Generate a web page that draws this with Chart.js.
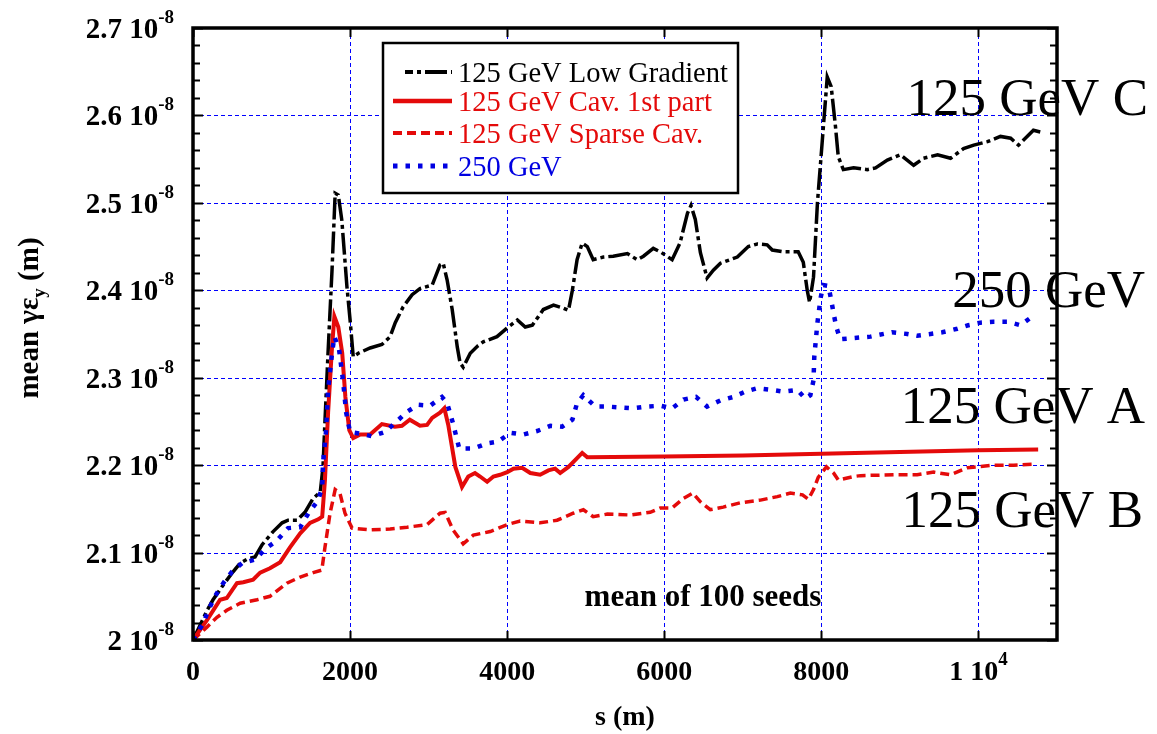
<!DOCTYPE html>
<html>
<head>
<meta charset="utf-8">
<script src="https://cdn.jsdelivr.net/npm/chart.js@4.4.0/dist/chart.umd.min.js"></script>
<style>
  body { margin: 0; background: #fff; }
  canvas { display: block; }
</style>
</head>
<body>
<canvas id="grafico" width="1157" height="734"></canvas>
<script>
// [s (m), mean gamma*eps_y in units of 1e-8 m]
var lowGradient = [
  [0,2.0],[180,2.034],[255,2.046],[385,2.063],[510,2.078],[600,2.088],[700,2.093],[790,2.095],
  [880,2.109],[1020,2.124],[1135,2.134],[1210,2.137],[1325,2.137],[1425,2.146],[1530,2.162],
  [1620,2.169],[1655,2.198],[1680,2.25],[1720,2.33],[1770,2.423],[1810,2.511],[1850,2.509],
  [1895,2.48],[1960,2.404],[2000,2.366],[2040,2.324],[2105,2.328],[2255,2.334],[2405,2.338],
  [2510,2.347],[2575,2.363],[2675,2.381],[2790,2.395],[2890,2.402],[3045,2.406],[3145,2.429],
  [3185,2.431],[3235,2.412],[3300,2.378],[3365,2.335],[3400,2.317],[3440,2.312],[3530,2.328],
  [3620,2.336],[3695,2.341],[3870,2.347],[4000,2.357],[4130,2.366],[4230,2.358],[4320,2.360],
  [4460,2.378],[4590,2.383],[4700,2.38],[4780,2.377],[4830,2.4],[4890,2.435],[4955,2.454],
  [5020,2.45],[5095,2.435],[5225,2.438],[5350,2.439],[5530,2.442],[5655,2.435],[5735,2.439],
  [5860,2.448],[5950,2.444],[6100,2.435],[6200,2.454],[6295,2.488],[6340,2.497],[6395,2.481],
  [6460,2.443],[6545,2.414],[6625,2.423],[6715,2.431],[6930,2.438],[7070,2.45],[7185,2.453],
  [7310,2.452],[7375,2.446],[7515,2.444],[7705,2.444],[7770,2.432],[7820,2.4],[7850,2.386],
  [7900,2.415],[7950,2.5],[8010,2.569],[8075,2.644],[8125,2.633],[8180,2.587],[8215,2.553],
  [8280,2.538],[8410,2.54],[8585,2.538],[8690,2.54],[8840,2.549],[9005,2.555],[9175,2.543],
  [9300,2.551],[9480,2.555],[9645,2.551],[9810,2.562],[9940,2.566],[10115,2.57],[10280,2.576],
  [10410,2.574],[10510,2.566],[10700,2.583],[10790,2.581]
];
var cavFirstPart = [
  [0,2.0],[180,2.023],[345,2.046],[430,2.048],[560,2.065],[640,2.066],[765,2.069],[855,2.077],
  [980,2.082],[1110,2.089],[1235,2.106],[1365,2.122],[1490,2.134],[1595,2.138],[1645,2.141],
  [1680,2.183],[1720,2.26],[1770,2.335],[1800,2.37],[1850,2.358],[1900,2.328],[1940,2.278],
  [1990,2.24],[2040,2.231],[2130,2.235],[2255,2.235],[2405,2.247],[2570,2.244],[2660,2.245],
  [2760,2.252],[2890,2.245],[2980,2.246],[3045,2.254],[3145,2.26],[3200,2.265],[3250,2.246],
  [3340,2.198],[3425,2.175],[3505,2.187],[3590,2.191],[3655,2.187],[3745,2.181],[3825,2.187],
  [3910,2.189],[4000,2.192],[4080,2.196],[4190,2.197],[4295,2.191],[4420,2.189],[4525,2.194],
  [4610,2.196],[4675,2.191],[4780,2.198],[4890,2.208],[4955,2.214],[5020,2.209],[6000,2.210],
  [7000,2.211],[8000,2.213],[9000,2.215],[10000,2.217],[10760,2.218]
];
var sparseCav = [
  [0,2.0],[180,2.015],[305,2.026],[430,2.034],[600,2.042],[815,2.046],[980,2.05],[1195,2.065],
  [1365,2.072],[1530,2.077],[1640,2.080],[1680,2.106],[1745,2.145],[1810,2.172],[1870,2.168],
  [1935,2.145],[2025,2.128],[2255,2.126],[2510,2.127],[2725,2.129],[2980,2.132],[3145,2.145],
  [3210,2.146],[3310,2.126],[3440,2.110],[3570,2.120],[3785,2.124],[4000,2.132],[4165,2.136],
  [4420,2.134],[4635,2.137],[4840,2.145],[4970,2.149],[5095,2.141],[5275,2.144],[5565,2.143],
  [5820,2.146],[5950,2.151],[6100,2.151],[6245,2.162],[6365,2.168],[6460,2.158],[6585,2.149],
  [6750,2.152],[6970,2.157],[7225,2.16],[7440,2.164],[7605,2.168],[7760,2.166],[7835,2.161],
  [7900,2.172],[7960,2.186],[8065,2.198],[8155,2.191],[8215,2.183],[8410,2.187],[8500,2.188],
  [8920,2.189],[9220,2.189],[9430,2.192],[9645,2.189],[9860,2.197],[10190,2.2],[10450,2.2],
  [10700,2.201]
];
var gev250 = [
  [0,2.0],[130,2.019],[195,2.034],[280,2.05],[385,2.065],[495,2.078],[625,2.088],[790,2.092],
  [920,2.104],[1070,2.114],[1210,2.128],[1365,2.129],[1470,2.145],[1595,2.160],[1645,2.175],
  [1655,2.202],[1695,2.24],[1720,2.286],[1770,2.328],[1800,2.347],[1860,2.332],[1910,2.297],
  [1950,2.26],[2000,2.238],[2130,2.236],[2280,2.233],[2445,2.238],[2570,2.248],[2725,2.261],
  [2865,2.269],[3020,2.268],[3170,2.278],[3235,2.271],[3310,2.248],[3390,2.219],[3570,2.219],
  [3745,2.225],[3885,2.227],[4040,2.237],[4205,2.235],[4380,2.239],[4550,2.245],[4700,2.244],
  [4830,2.252],[4890,2.271],[4970,2.280],[5120,2.267],[5275,2.267],[5605,2.265],[5780,2.267],
  [5950,2.268],[6100,2.265],[6245,2.275],[6405,2.278],[6545,2.267],[6715,2.274],[6880,2.278],
  [7030,2.284],[7185,2.288],[7375,2.286],[7515,2.284],[7695,2.286],[7795,2.276],[7860,2.28],
  [7900,2.297],[7910,2.324],[7950,2.363],[7990,2.391],[8025,2.406],[8090,2.405],[8125,2.389],
  [8155,2.374],[8190,2.358],[8240,2.344],[8370,2.345],[8625,2.347],[8900,2.352],[9095,2.350],
  [9220,2.348],[9390,2.350],[9540,2.352],[9730,2.356],[9870,2.36],[10025,2.363],[10190,2.364],
  [10370,2.364],[10535,2.36],[10700,2.371]
];

var seriesNames = ['125 GeV Low Gradient', '125 GeV Cav. 1st part', '125 GeV Sparse Cav.', '250 GeV'];
var xTickValues = [0, 2000, 4000, 6000, 8000, 10000];
var xTickLabels = ['0', '2000', '4000', '6000', '8000', '1 10'];
var xTickExps   = ['', '', '', '', '', '4'];
var yTickValues = [2.0, 2.1, 2.2, 2.3, 2.4, 2.5, 2.6, 2.7];
var yTickLabels = ['2 10', '2.1 10', '2.2 10', '2.3 10', '2.4 10', '2.5 10', '2.6 10', '2.7 10'];
var yTickExp = '-8';
var curveLabels = ['125 GeV C', '250 GeV', '125 GeV A', '125 GeV B'];

var SERIF = '"Liberation Serif", "Times New Roman", serif';
var RED = 'rgb(228,10,10)';
var BLUE = 'rgb(0,0,225)';
var GRID = 'rgb(0,0,255)';

function pontos(lista) {
  return lista.map(function (p) { return { x: p[0], y: p[1] }; });
}

// dotted blue grid under the curves
var grade = {
  id: 'grade',
  beforeDatasetsDraw: function (chart) {
    var ctx = chart.ctx;
    var a = chart.chartArea;
    var sx = chart.scales.x, sy = chart.scales.y;
    ctx.save();
    ctx.strokeStyle = GRID;
    ctx.lineWidth = 1;
    ctx.setLineDash([4, 3]);
    ctx.beginPath();
    sy.ticks.forEach(function (t) {
      var py = Math.round(sy.getPixelForValue(t.value)) + 0.5;
      ctx.moveTo(a.left, py); ctx.lineTo(a.right, py);
    });
    sx.ticks.forEach(function (t) {
      var px = Math.round(sx.getPixelForValue(t.value)) + 0.5;
      ctx.moveTo(px, a.top); ctx.lineTo(px, a.bottom);
    });
    ctx.stroke();
    ctx.restore();
  }
};

// frame, inward ticks, tick labels, titles, legend and curve names
var moldura = {
  id: 'moldura',
  afterDraw: function (chart) {
    var ctx = chart.ctx;
    var a = chart.chartArea;
    var sx = chart.scales.x, sy = chart.scales.y;
    ctx.save();
    ctx.setLineDash([]);
    ctx.strokeStyle = '#000';

    // y ticks every 0.02 on both sides
    ctx.lineWidth = 2;
    ctx.beginPath();
    for (var i = 0; i <= 35; i++) {
      var py = Math.round(sy.getPixelForValue(2 + i * 0.02)) + 0.5;
      var len = (i % 5 === 0) ? 10 : 7;
      ctx.moveTo(a.left, py); ctx.lineTo(a.left + len, py);
      ctx.moveTo(a.right, py); ctx.lineTo(a.right - len, py);
    }
    xTickValues.forEach(function (v) {
      var px = Math.round(sx.getPixelForValue(v)) + 0.5;
      ctx.moveTo(px, a.bottom); ctx.lineTo(px, a.bottom - 9);
      ctx.moveTo(px, a.top); ctx.lineTo(px, a.top + 9);
    });
    ctx.stroke();

    // frame
    ctx.lineWidth = 3.5;
    ctx.strokeRect(a.left, a.top, a.right - a.left, a.bottom - a.top);

    // y tick labels with exponent
    ctx.fillStyle = '#000';
    ctx.textBaseline = 'alphabetic';
    ctx.textAlign = 'left';
    var xEnd = 174;
    yTickValues.forEach(function (v, k) {
      var py = sy.getPixelForValue(v);
      ctx.font = 'bold 19px ' + SERIF;
      var wExp = ctx.measureText(yTickExp).width;
      ctx.fillText(yTickExp, xEnd - wExp, py - 5);
      ctx.font = 'bold 29px ' + SERIF;
      var wBase = ctx.measureText(yTickLabels[k]).width;
      ctx.fillText(yTickLabels[k], xEnd - wExp - wBase, py + 10);
    });

    // x tick labels
    xTickValues.forEach(function (v, k) {
      var px = sx.getPixelForValue(v);
      ctx.font = 'bold 28px ' + SERIF;
      var wBase = ctx.measureText(xTickLabels[k]).width;
      ctx.font = 'bold 19px ' + SERIF;
      var wExp = xTickExps[k] ? ctx.measureText(xTickExps[k]).width : 0;
      var x0 = px - (wBase + wExp) / 2;
      ctx.font = 'bold 28px ' + SERIF;
      ctx.fillText(xTickLabels[k], x0, 680);
      if (xTickExps[k]) {
        ctx.font = 'bold 19px ' + SERIF;
        ctx.fillText(xTickExps[k], x0 + wBase, 665);
      }
    });

    // axis titles
    ctx.font = 'bold 28px ' + SERIF;
    ctx.textAlign = 'center';
    ctx.fillText('s (m)', (a.left + a.right) / 2, 725);

    ctx.save();
    ctx.translate(38, 318);
    ctx.rotate(-Math.PI / 2);
    ctx.textAlign = 'left';
    var p1 = 'mean \u03B3\u03B5', p2 = 'y', p3 = ' (m)';
    ctx.font = 'bold 29px ' + SERIF;
    var w1 = ctx.measureText(p1).width, w3 = ctx.measureText(p3).width;
    ctx.font = 'bold 19px ' + SERIF;
    var w2 = ctx.measureText(p2).width;
    var x0 = -(w1 + w2 + w3) / 2;
    ctx.font = 'bold 29px ' + SERIF;
    ctx.fillText(p1, x0, 0);
    ctx.fillText(p3, x0 + w1 + w2, 0);
    ctx.font = 'bold 19px ' + SERIF;
    ctx.fillText(p2, x0 + w1, 7);
    ctx.restore();

    // note inside the plot
    ctx.font = 'bold 31px ' + SERIF;
    ctx.textAlign = 'center';
    ctx.fillText('mean of 100 seeds', 703, 606);

    // legend box
    var lx = 383, ly = 43, lw = 355, lh = 150;
    ctx.fillStyle = '#fff';
    ctx.fillRect(lx, ly, lw, lh);
    ctx.lineWidth = 2.5;
    ctx.strokeStyle = '#000';
    ctx.strokeRect(lx, ly, lw, lh);
    var rows = [72, 101, 133, 166];
    ctx.textAlign = 'left';
    ctx.font = '28.5px ' + SERIF;
    chart.data.datasets.forEach(function (ds, k) {
      var y = rows[k];
      ctx.save();
      ctx.strokeStyle = ds.borderColor;
      ctx.lineWidth = ds.borderWidth + 0.5;
      ctx.setLineDash(ds.borderDash || []);
      ctx.lineDashOffset = k === 0 ? 14 : 0;
      ctx.beginPath();
      ctx.moveTo(k === 0 ? 405 : 393, y);
      ctx.lineTo(452, y);
      ctx.stroke();
      ctx.restore();
      ctx.fillStyle = ds.borderColor;
      ctx.fillText(ds.label, 458, y + 10);
    });

    // curve names on the right
    ctx.fillStyle = '#000';
    ctx.font = '53px ' + SERIF;
    ctx.textAlign = 'right';
    var spots = [[1148, 115], [1145, 307], [1145, 423], [1143, 527]];
    curveLabels.forEach(function (t, k) {
      ctx.fillText(t, spots[k][0], spots[k][1]);
    });
    ctx.restore();
  }
};

// ticks only at the labelled values
function fixarTicks(valores) {
  return function (s) {
    s.ticks = valores.map(function (v) { return { value: v }; });
  };
}

new Chart(document.getElementById('grafico'), {
  type: 'line',
  data: {
    datasets: [
      { label: seriesNames[0], data: pontos(lowGradient), borderColor: '#000', borderWidth: 3.5,
        borderDash: [22, 4, 4, 4], order: 3 },
      { label: seriesNames[1], data: pontos(cavFirstPart), borderColor: RED, borderWidth: 4, order: 1 },
      { label: seriesNames[2], data: pontos(sparseCav), borderColor: RED, borderWidth: 3.5,
        borderDash: [9, 5], order: 2 },
      { label: seriesNames[3], data: pontos(gev250), borderColor: BLUE, borderWidth: 4.5,
        borderDash: [4.5, 8], order: 0 }
    ]
  },
  options: {
    responsive: false,
    animation: false,
    layout: { padding: { left: 193, top: 28, right: 100, bottom: 94 } },
    elements: { point: { radius: 0 }, line: { tension: 0, fill: false } },
    plugins: { legend: { display: false }, tooltip: { enabled: false } },
    scales: {
      x: {
        type: 'linear', min: 0, max: 11000,
        afterFit: function (s) { s.height = 0; },
        afterBuildTicks: fixarTicks(xTickValues),
        ticks: { display: false },
        grid: { display: false },
        border: { display: false }
      },
      y: {
        type: 'linear', min: 2.0, max: 2.7,
        afterFit: function (s) { s.width = 0; },
        afterBuildTicks: fixarTicks(yTickValues),
        ticks: { display: false },
        grid: { display: false },
        border: { display: false }
      }
    }
  },
  plugins: [grade, moldura]
});
</script>
</body>
</html>
